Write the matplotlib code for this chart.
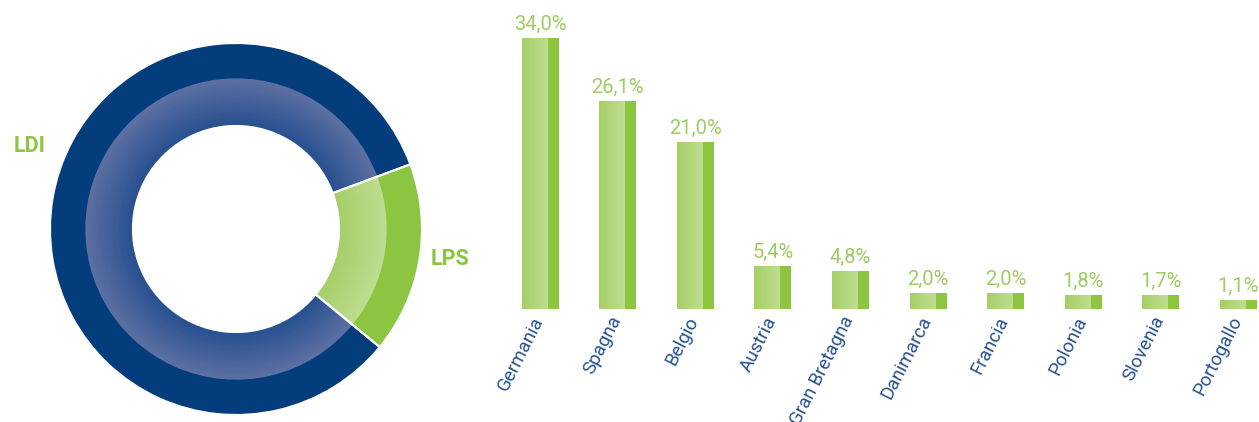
import numpy as np
import matplotlib.pyplot as plt
from matplotlib.colors import LinearSegmentedColormap, to_rgb
from matplotlib.transforms import ScaledTranslation

plt.rcParams['font.family'] = ['Roboto', 'DejaVu Sans']

# donut data
ring_labels = ['LPS', 'LDI']
ring_values = [16.6, 83.4]

# bar data
countries = ['Germania', 'Spagna', 'Belgio', 'Austria', 'Gran Bretagna',
             'Danimarca', 'Francia', 'Polonia', 'Slovenia', 'Portogallo']
shares = [34.0, 26.1, 21.0, 5.4, 4.8, 2.0, 2.0, 1.8, 1.7, 1.1]

navy = '#033d7c'
green = '#8cc540'
label_green = '#9dcc62'
tick_blue = '#27528f'

W, H = 1259, 422
fig = plt.figure(figsize=(W / 100, H / 100), dpi=100)


def px_axes(x0, y_top, w, h):
    return fig.add_axes([x0 / W, (H - y_top - h) / H, w / W, h / H])


# ---- donut ----
ax1 = px_axes(46, 39, 380, 380)
r_hole = 0.554
r_mid = 0.81
outer_cols = [green, navy]
grad_out = [to_rgb('#bddd90'), to_rgb('#5d70a3')]
grad_in = [to_rgb('#a5ce68'), to_rgb('#27508f')]

ax1.pie(ring_values, radius=1.0, startangle=-39.4, colors=outer_cols,
        wedgeprops=dict(width=1.0 - r_mid + 0.005, linewidth=0))
N = 40
for k in range(N):
    t = k / (N - 1)
    r = r_mid - k * (r_mid - r_hole) / N
    cols = [tuple((1 - t) * np.array(grad_out[j]) + t * np.array(grad_in[j]))
            for j in range(2)]
    ax1.pie(ring_values, radius=r, startangle=-39.4, colors=cols,
            wedgeprops=dict(width=r - r_hole, linewidth=0))
ax1.pie(ring_values, radius=1.0, startangle=-39.4, colors=['none', 'none'],
        wedgeprops=dict(width=1.0 - r_hole, edgecolor='white', linewidth=1.5))
lim = 190 / 186
ax1.set_xlim(-lim, lim)
ax1.set_ylim(-lim, lim)
ax1.set_aspect('equal')
ax1.axis('off')
ax1.text(-1.108, 0.446, ring_labels[1], color=green, fontsize=15.5,
         fontweight='bold', ha='center', va='center')
ax1.text(1.15, -0.161, ring_labels[0], color=green, fontsize=15.5,
         fontweight='bold', ha='center', va='center')

# ---- bars ----
ax2 = px_axes(490, 0, 769, 309)
step = 77.6
x = np.arange(len(shares))
w_left = 26 / step
w_right = 11 / step
half = (w_left + w_right) / 2

bar_cmap = LinearSegmentedColormap.from_list('g', ['#a6cf66', '#bedd92'])
grad = np.linspace(0, 1, 64).reshape(1, -1)
left_bars = ax2.bar(x - half, shares, width=w_left, align='edge',
                    color='#b2d67c', linewidth=0)
ax2.bar(x - half + w_left, shares, width=w_right, align='edge',
        color=green, linewidth=0)
for b in left_bars:
    im = ax2.imshow(grad, cmap=bar_cmap, aspect='auto', interpolation='bilinear',
                    extent=[b.get_x(), b.get_x() + b.get_width(), 0, b.get_height()],
                    zorder=2)
    im.set_clip_path(b)

for xi, v in zip(x, shares):
    ax2.annotate(f'{v:.1f}'.replace('.', ',') + '%', (xi, v),
                 xytext=(0, 3), textcoords='offset points',
                 ha='center', va='bottom', color=label_green, fontsize=14.5)

ax2.set_xlim(-50 / step, (769 - 50) / step)
ax2.set_ylim(0, 309 / 7.97)
ax2.set_xticks(x)
ax2.set_xticklabels(countries, rotation=63, ha='right', va='top',
                    rotation_mode='anchor', color=tick_blue, fontsize=13.5)
ax2.tick_params(axis='x', length=0, pad=3)
shift = ScaledTranslation(-0.09, 0, fig.dpi_scale_trans)
for lbl in ax2.get_xticklabels():
    lbl.set_transform(lbl.get_transform() + shift)
ax2.set_yticks([])
for s in ax2.spines.values():
    s.set_visible(False)
ax2.patch.set_alpha(0)

fig.savefig('out.png', dpi=100)
